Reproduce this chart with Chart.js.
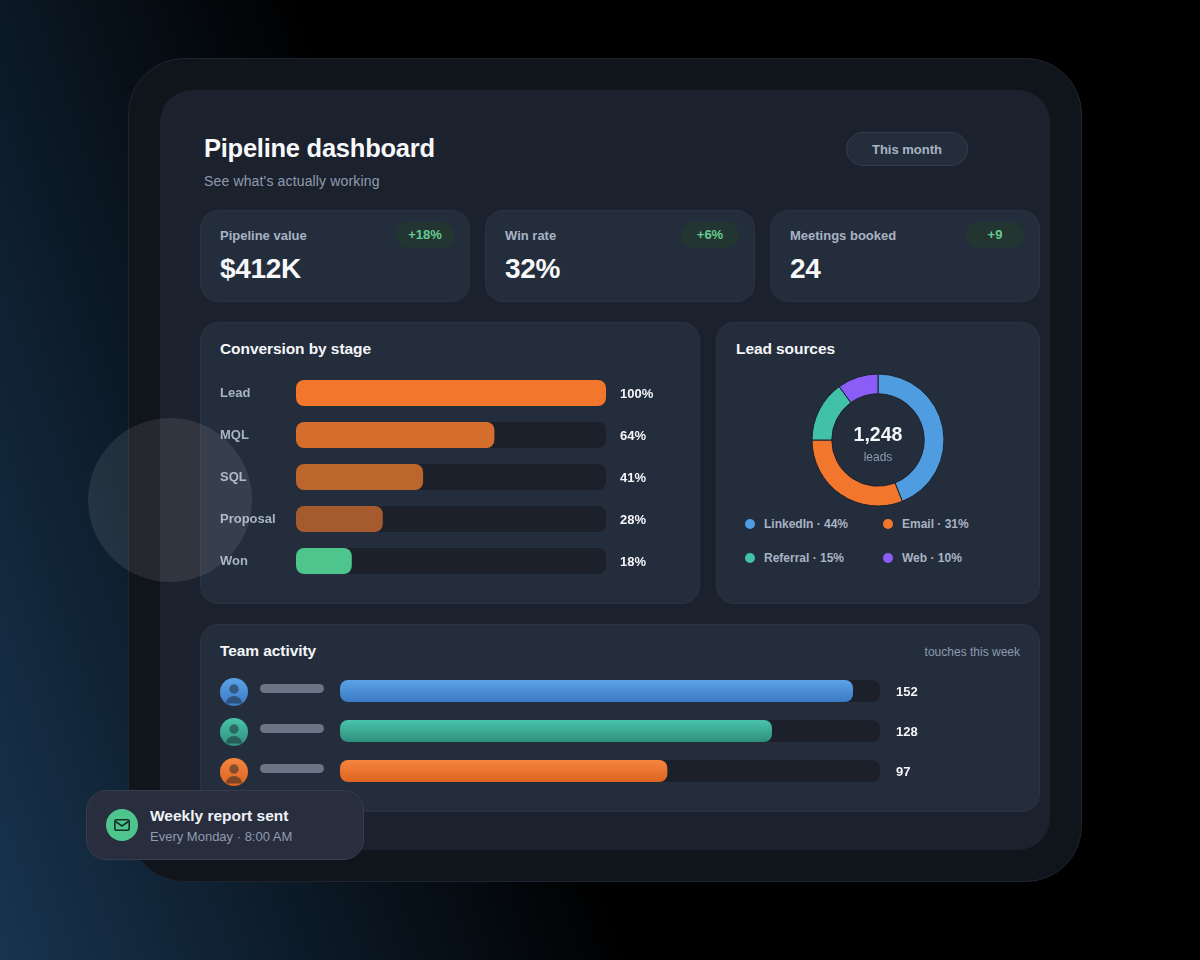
<!DOCTYPE html>
<html>
<head>
<meta charset="utf-8">
<title>Pipeline dashboard</title>
<script src="https://cdn.jsdelivr.net/npm/chart.js@4"></script>
<style>
  html, body { margin: 0; padding: 0; }
  body {
    width: 1200px; height: 960px; position: relative; overflow: hidden;
    font-family: "Liberation Sans", Arial, sans-serif;
    background: linear-gradient(71deg, #18344f 0%, #000 41%);
  }
  .box { position: absolute; box-sizing: border-box; }
  .txt { position: absolute; white-space: nowrap; line-height: 1; }
  .shell { left: 128px; top: 58px; width: 954px; height: 824px; border-radius: 56px;
    background: #10141b; border: 1px solid #1f2530; }
  .inner { left: 160px; top: 90px; width: 890px; height: 760px; border-radius: 32px; background: #1c222d; }
  .card { background: #242d3c; border: 1px solid #2a3342; border-radius: 18px; }
  .pill { left: 846px; top: 132px; width: 122px; height: 34px; border-radius: 17px;
    background: #242d3c; border: 1px solid #343c4c; color: #a8b3c4; font-weight: bold; font-size: 13px;
    text-align: center; line-height: 33px; }
  .badge { width: 58px; height: 26px; border-radius: 13px; background: #233530; color: #63cb90;
    font-size: 13px; font-weight: bold; text-align: center; line-height: 26px; }
  .heading { color: #f4f6f9; font-weight: bold; font-size: 15.5px; letter-spacing: -0.08px; }
  .muted { color: #8f9bb0; }
  canvas { position: absolute; display: block; }
  .dot { position: absolute; width: 10px; height: 10px; border-radius: 50%; }
  .name-bar { left: 260px; width: 64px; height: 9px; border-radius: 5px; background: #6b7484; }
  .avatar { position: absolute; left: 220px; width: 28px; height: 28px; }
  .halo { left: 88px; top: 418px; width: 164px; height: 164px; border-radius: 50%; background: rgba(255,255,255,0.09); }
  .toast { left: 86px; top: 790px; width: 278px; height: 70px; border-radius: 20px; background: #282e3e; border: 1px solid #363d4e; }
</style>
</head>
<body>
<div class="box shell"></div>
<div class="box inner"></div>

<div class="txt" style="left:204px;top:136px;font-size:25.5px;letter-spacing:-0.25px;font-weight:bold;color:#f7f8fa">Pipeline dashboard</div>
<div class="txt muted" style="left:204px;top:174px;font-size:14px;letter-spacing:0.15px">See what's actually working</div>
<div class="box pill">This month</div>

<div id="kpis"></div>

<div class="box card" style="left:200px;top:322px;width:500px;height:282px"></div>
<div class="txt heading" style="left:220px;top:341px">Conversion by stage</div>
<canvas id="stageChart" style="left:220px;top:365px"></canvas>

<div class="box card" style="left:716px;top:322px;width:324px;height:282px"></div>
<div class="txt heading" style="left:736px;top:341px">Lead sources</div>
<canvas id="sourceChart" style="left:808px;top:370px"></canvas>
<div class="txt" style="left:778px;width:200px;text-align:center;top:425px;font-size:19.5px;font-weight:bold;color:#f4f6f9">1,248</div>
<div class="txt muted" style="left:778px;width:200px;text-align:center;top:451px;font-size:12px">leads</div>
<div id="sourceLegend"></div>

<div class="box card" style="left:200px;top:624px;width:840px;height:188px"></div>
<div class="txt heading" style="left:220px;top:643px">Team activity</div>
<div class="txt muted" style="right:180px;top:646px;font-size:12px">touches this week</div>
<div id="teamRows"></div>
<canvas id="teamChart" style="left:340px;top:671px"></canvas>

<div class="box halo"></div>

<div class="box toast"></div>
<svg style="position:absolute;left:106px;top:809px" width="32" height="32" viewBox="0 0 32 32">
  <circle cx="16" cy="16" r="16" fill="#4dc58c"/>
  <rect x="8.8" y="10.8" width="14.4" height="10.4" rx="2" fill="none" stroke="#12302a" stroke-width="1.6"/>
  <path d="M9.5 12.5 L16 17 L22.5 12.5" fill="none" stroke="#12302a" stroke-width="1.6"/>
</svg>
<div class="txt" style="left:150px;top:808px;font-size:15.5px;font-weight:bold;color:#f0f3f7">Weekly report sent</div>
<div class="txt muted" style="left:150px;top:830px;font-size:13px">Every Monday · 8:00 AM</div>

<script>
const kpiLabels = ['Pipeline value', 'Win rate', 'Meetings booked'];
const kpiValues = ['$412K', '32%', '24'];
const kpiDeltas = ['+18%', '+6%', '+9'];

const stageNames = ['Lead', 'MQL', 'SQL', 'Proposal', 'Won'];
const stageValues = [100, 64, 41, 28, 18];
const stageColors = ['#f2772c', '#d56e2c', '#bc652d', '#a55b2d', '#4dc58c'];
const stageTrack = [100, 100, 100, 100, 100];

const sourceNames = ['LinkedIn', 'Email', 'Referral', 'Web'];
const sourceShares = [44, 31, 15, 10];
const sourceColors = ['#4f9de0', '#f2772c', '#40c1a8', '#8b5cf6'];

const teamTouches = [152, 128, 97];
const teamTrack = [160, 160, 160];
const teamTopColors = ['#5ca3e6', '#49c4ab', '#f5853f'];
const teamBottomColors = ['#3b7ac4', '#2f8f7c', '#dc6420'];

const TRACK_COLOR = '#1b202b';
const LABEL_FONT = '"Liberation Sans", Arial, sans-serif';

// kpi cards across the top
const kpiBox = document.getElementById('kpis');
kpiLabels.forEach((label, i) => {
    const left = 200 + i * 285;
    kpiBox.insertAdjacentHTML('beforeend', `
        <div class="box card" style="left:${left}px;top:210px;width:270px;height:92px"></div>
        <div class="txt" style="left:${left + 20}px;top:229px;font-size:13px;font-weight:bold;color:#a8b3c4">${label}</div>
        <div class="txt" style="left:${left + 20}px;top:255px;font-size:28px;letter-spacing:-0.3px;font-weight:bold;color:#f7f8fa">${kpiValues[i]}</div>
        <div class="box badge" style="left:${left + 196}px;top:222px">${kpiDeltas[i]}</div>`);
});

// two column legend under the donut
const legendBox = document.getElementById('sourceLegend');
sourceNames.forEach((name, i) => {
    const left = 745 + (i % 2) * 138;
    const top = 524 + Math.floor(i / 2) * 34;
    legendBox.insertAdjacentHTML('beforeend', `
        <div class="dot" style="left:${left}px;top:${top - 5}px;background:${sourceColors[i]}"></div>
        <div class="txt" style="left:${left + 19}px;top:${top - 6}px;font-size:12px;font-weight:bold;color:#a8b3c4">${name} · ${sourceShares[i]}%</div>`);
});

// avatar and blurred name bar for each team row
const rowBox = document.getElementById('teamRows');
teamTouches.forEach((_, i) => {
    const top = 678 + i * 40;
    rowBox.insertAdjacentHTML('beforeend', `
        <svg class="avatar" style="top:${top}px" viewBox="0 0 28 28">
          <defs><linearGradient id="av${i}" x1="0" y1="0" x2="0" y2="1">
            <stop offset="0" stop-color="${teamTopColors[i]}"/><stop offset="1" stop-color="${teamBottomColors[i]}"/>
          </linearGradient></defs>
          <circle cx="14" cy="14" r="14" fill="url(#av${i})"/>
          <circle cx="14" cy="11" r="4.7" fill="#1c212c" fill-opacity="0.5"/>
          <path d="M6 25.5 A8 7.5 0 0 1 22 25.5 Z" fill="#1c212c" fill-opacity="0.5"/>
        </svg>
        <div class="box name-bar" style="top:${top + 6}px"></div>`);
});

// writes the value just past the end of each track
function endLabels(suffix, gap) {
    return {
        id: 'endLabels',
        afterDatasetsDraw(chart) {
            const ctx = chart.ctx;
            const bars = chart.getDatasetMeta(0).data;
            ctx.save();
            ctx.font = 'bold 13px ' + LABEL_FONT;
            ctx.fillStyle = '#f4f6f9';
            ctx.textBaseline = 'middle';
            bars.forEach((bar, i) => {
                ctx.fillText(chart.data.datasets[0].data[i] + suffix, chart.chartArea.right + gap, bar.y + 1);
            });
            ctx.restore();
        }
    };
}

// canvas is 14px taller than the 210px plot, the y scale keeps half a label clear at each end
const stageCanvas = document.getElementById('stageChart');
stageCanvas.width = 450;
stageCanvas.height = 224;
new Chart(stageCanvas, {
    type: 'bar',
    data: {
        labels: stageNames,
        datasets: [
            { data: stageValues, backgroundColor: stageColors, order: 1 },
            { data: stageTrack, backgroundColor: TRACK_COLOR, order: 2 }
        ]
    },
    options: {
        indexAxis: 'y',
        responsive: false,
        animation: false,
        devicePixelRatio: 1,
        layout: { padding: { right: 64 } },
        datasets: { bar: { grouped: false, barThickness: 26, borderRadius: 8, borderSkipped: false, inflateAmount: 0 } },
        plugins: { legend: { display: false }, tooltip: { enabled: false } },
        scales: {
            x: { display: false, min: 0, max: 100 },
            y: {
                grid: { display: false },
                border: { display: false },
                afterFit: scale => { scale.width = 76; },
                ticks: {
                    crossAlign: 'far',
                    padding: 0,
                    color: '#a8b3c4',
                    font: { family: LABEL_FONT, size: 13, weight: 'bold', lineHeight: 14 / 13 }
                }
            }
        }
    },
    plugins: [endLabels('%', 14)]
});

const sourceCanvas = document.getElementById('sourceChart');
sourceCanvas.width = 140;
sourceCanvas.height = 140;
new Chart(sourceCanvas, {
    type: 'doughnut',
    data: {
        labels: sourceNames,
        datasets: [{
            data: sourceShares,
            backgroundColor: sourceColors,
            borderColor: '#1c212c',
            borderWidth: 1
        }]
    },
    options: {
        responsive: false,
        animation: false,
        devicePixelRatio: 1,
        radius: 66,
        cutout: '70%',
        plugins: { legend: { display: false }, tooltip: { enabled: false } }
    }
});

// top to bottom shading on the team bars
function teamFill(context) {
    const { chart, dataIndex } = context;
    if (!chart.chartArea) return teamTopColors[dataIndex];
    const mid = chart.scales.y.getPixelForValue(dataIndex);
    const grad = chart.ctx.createLinearGradient(0, mid - 11, 0, mid + 11);
    grad.addColorStop(0, teamTopColors[dataIndex]);
    grad.addColorStop(1, teamBottomColors[dataIndex]);
    return grad;
}

const teamCanvas = document.getElementById('teamChart');
teamCanvas.width = 600;
teamCanvas.height = 120;
new Chart(teamCanvas, {
    type: 'bar',
    data: {
        labels: ['A', 'B', 'C'],
        datasets: [
            { data: teamTouches, backgroundColor: teamFill, order: 1 },
            { data: teamTrack, backgroundColor: TRACK_COLOR, order: 2 }
        ]
    },
    options: {
        indexAxis: 'y',
        responsive: false,
        animation: false,
        devicePixelRatio: 1,
        layout: { padding: { right: 60 } },
        datasets: { bar: { grouped: false, barThickness: 22, borderRadius: 8, borderSkipped: false, inflateAmount: 0 } },
        plugins: { legend: { display: false }, tooltip: { enabled: false } },
        scales: {
            x: { display: false, min: 0, max: 160 },
            y: { display: false }
        }
    },
    plugins: [endLabels('', 16)]
});
</script>
</body>
</html>
